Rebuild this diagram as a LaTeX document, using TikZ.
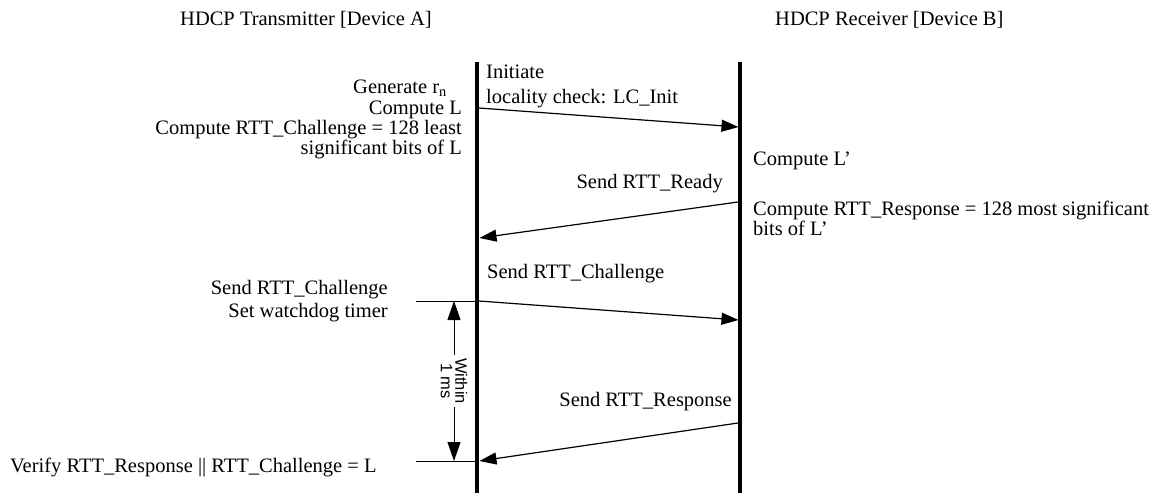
\documentclass[tikz,border=0pt]{standalone}
\usepackage{fontspec}
\setmainfont{Liberation Serif}
\newfontfamily\dimfont{Liberation Sans}
\usetikzlibrary{arrows.meta}
\begin{document}
\begin{tikzpicture}[x=1pt,y=-1pt,
  lbl/.style={font=\fontsize{20.5}{20}\selectfont, inner sep=0pt},
  lifeline/.style={line width=3.6pt},
  msg/.style={line width=1.2pt, -{Triangle[length=17pt,width=12pt]}},
  tickline/.style={line width=1pt},
  dimline/.style={line width=1pt, {Triangle[length=19pt,width=13pt]}-{Triangle[length=19pt,width=13pt]}},
  dimlbl/.style={fill=white, inner sep=3pt, rotate=-90, align=center, font=\dimfont\fontsize{16.5}{14.5}\selectfont}
]
\useasboundingbox (0,0) rectangle (1175,493);

% headers
\node[lbl, anchor=base west] (hA) at (180,25) {HDCP Transmitter [Device A]};
\node[lbl, anchor=base west] (hB) at (775,25) {HDCP Receiver [Device B]};

% lifelines
\coordinate (Atop) at (477,62);
\coordinate (Abot) at (477,493);
\coordinate (Btop) at (740,62);
\coordinate (Bbot) at (740,493);
\draw[lifeline] (Atop) -- (Abot);
\draw[lifeline] (Btop) -- (Bbot);

% texts
\node[lbl, anchor=base west] (init1) at (486,78) {Initiate};
\node[lbl, anchor=base west] (init2) at (486,103) {locality check: LC\_Init};
\node[lbl, anchor=base east] (gen) at (447,93) {Generate r\textsubscript{n}};
\node[lbl, anchor=base east] (compL) at (462,114) {Compute L};
\node[lbl, anchor=base east] (compC1) at (462,134) {Compute RTT\_Challenge = 128 least};
\node[lbl, anchor=base east] (compC2) at (462,154) {significant bits of L};
\node[lbl, anchor=base west] (compLp) at (753,165) {Compute L’};
\node[lbl, anchor=base east] (ready) at (723,188) {Send RTT\_Ready};
\node[lbl, anchor=base west] (compR1) at (753,215) {Compute RTT\_Response = 128 most significant};
\node[lbl, anchor=base west] (compR2) at (753,235) {bits of L’};
\node[lbl, anchor=base west] (chal) at (487,278) {Send RTT\_Challenge};
\node[lbl, anchor=base east] (sendC) at (388,294) {Send RTT\_Challenge};
\node[lbl, anchor=base east] (wdt) at (388,317) {Set watchdog timer};
\node[lbl, anchor=base east] (resp) at (732,406) {Send RTT\_Response};
\node[lbl, anchor=base west] (verify) at (10,472) {Verify RTT\_Response || RTT\_Challenge = L};

% messages
\coordinate (m1s) at (479,108);
\coordinate (m1e) at (738.5,127);
\coordinate (m2s) at (738,202);
\coordinate (m2e) at (479.5,238);
\coordinate (m3s) at (479,301);
\coordinate (m3e) at (738.5,320);
\coordinate (m4s) at (738,423);
\coordinate (m4e) at (479.5,461);
\draw[msg] (m1s) -- (m1e);
\draw[msg] (m2s) -- (m2e);
\draw[msg] (m3s) -- (m3e);
\draw[msg] (m4s) -- (m4e);

% timing dimension
\coordinate (t1l) at (416,301);
\coordinate (t1r) at (477,301);
\coordinate (t2l) at (416,461);
\coordinate (t2r) at (477,461);
\draw[tickline] (t1l) -- (t1r);
\draw[tickline] (t2l) -- (t2r);
\coordinate (d1) at (454,301);
\coordinate (d2) at (454,461);
\draw[dimline] (d1) -- (d2);
\node[dimlbl] (within) at (454,381) {Within\\1 ms};
\end{tikzpicture}
\end{document}
